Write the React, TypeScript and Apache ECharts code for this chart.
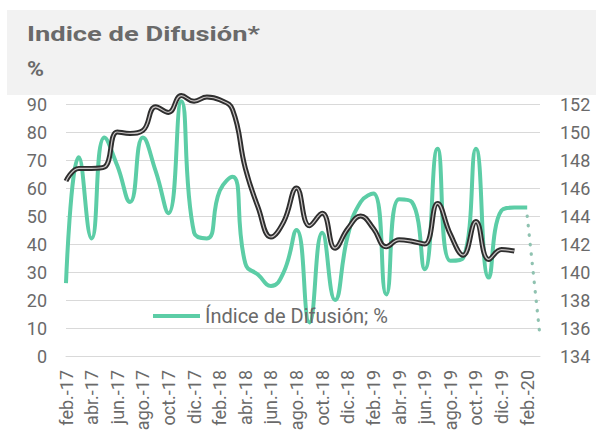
import React, { useEffect, useRef } from "react";
import * as echarts from "echarts";

const months = [
  "feb.-17", "mar.-17", "abr.-17", "may.-17", "jun.-17", "jul.-17", "ago.-17", "sep.-17", "oct.-17", "nov.-17", "dic.-17", "ene.-18",
  "feb.-18", "mar.-18", "abr.-18", "may.-18", "jun.-18", "jul.-18", "ago.-18", "sep.-18", "oct.-18", "nov.-18", "dic.-18", "ene.-19",
  "feb.-19", "mar.-19", "abr.-19", "may.-19", "jun.-19", "jul.-19", "ago.-19", "sep.-19", "oct.-19", "nov.-19", "dic.-19", "ene.-20",
  "feb.-20", "mar.-20",
];

// Índice de Difusión (%), left axis
const difusion = [
  26, 71, 42, 78, 68, 55, 78, 66, 51, 91, 44, 42,
  59, 64, 33, 29, 25, 30, 45, 12, 44, 20, 43, 55,
  58, 22, 56, 55, 31, 74, 34, 35, 74, 28, 52, 53,
  53, null,
];

// projected last month (dotted)
const difusionProj = [
  null, null, null, null, null, null, null, null, null, null, null, null,
  null, null, null, null, null, null, null, null, null, null, null, null,
  null, null, null, null, null, null, null, null, null, null, null, null,
  50, 7,
];

// dark series, right axis
const indice = [
  146.5, 147.4, 147.4, 147.5, 150.0, 149.9, 150.1, 151.8, 151.4, 152.6, 152.2, 152.5,
  152.3, 151.6, 147.4, 144.6, 142.5, 143.6, 146.0, 143.3, 144.2, 141.7, 143.1, 144.0,
  143.1, 141.8, 142.3, 142.2, 142.0, 144.9, 142.7, 141.2, 143.6, 140.9, 141.6, 141.5,
  null, null,
];

const leftTicks = { min: 0, max: 90, interval: 10 };
const rightTicks = { min: 134, max: 152, interval: 2 };

const GREEN = "#5ccda6";
const TXT = "#6a6a6a";
const FONT = "Roboto";

export default function App() {
  const ref = useRef<HTMLDivElement>(null);
  useEffect(() => {
    if (!ref.current) return;
    const chart = echarts.init(ref.current, undefined, { renderer: "svg" });
    chart.setOption({
      animation: false,
      backgroundColor: "#ffffff",
      textStyle: { fontFamily: FONT },
      graphic: [
        {
          type: "rect",
          z: -10,
          shape: { x: 7, y: 10, width: 589, height: 85 },
          style: { fill: "#f2f2f2" },
          silent: true,
        },
        {
          type: "text",
          x: 27,
          y: 23,
          scaleX: 1.3,
          style: { text: "Indice de Difusión*", fontSize: 21, fontWeight: "bold", fill: "#6a6a6a", fontFamily: FONT },
        },
        {
          type: "text",
          x: 27,
          y: 59,
          scaleX: 1.15,
          style: { text: "%", fontSize: 20, fontWeight: "bold", fill: "#6a6a6a", fontFamily: FONT },
        },
      ],
      legend: {
        data: ["Índice de Difusión; %"],
        left: 148,
        top: 301,
        icon: "rect",
        itemWidth: 47,
        itemHeight: 4,
        itemGap: 5,
        textStyle: { fontSize: 20, color: TXT, fontFamily: FONT },
      },
      grid: {
        left: 66,
        right: 56,
        top: 104,
        bottom: 77,
        containLabel: false,
        outerBoundsMode: "none",
      },
      xAxis: {
        type: "category",
        data: months,
        boundaryGap: false,
        axisLine: { show: true, lineStyle: { color: "#d9d9d9" } },
        axisTick: { show: false },
        axisLabel: { interval: 1, rotate: 90, fontSize: 18, color: TXT, margin: 14, fontFamily: FONT },
        splitLine: { show: false },
      },
      yAxis: [
        {
          type: "value",
          ...leftTicks,
          axisLine: { show: false },
          axisTick: { show: false },
          axisLabel: { fontSize: 18, color: TXT, margin: 19, fontFamily: FONT },
          splitLine: { show: true, lineStyle: { color: "#d9d9d9", width: 1 } },
        },
        {
          type: "value",
          ...rightTicks,
          position: "right",
          axisLine: { show: false },
          axisTick: { show: false },
          axisLabel: { fontSize: 18, color: TXT, margin: 20, fontFamily: FONT },
          splitLine: { show: false },
        },
      ],
      series: [
        {
          name: "Índice de Difusión; %",
          type: "line",
          data: difusion,
          yAxisIndex: 0,
          smooth: 0.5,
          showSymbol: false,
          symbol: "none",
          clip: false,
          itemStyle: { color: GREEN },
          lineStyle: { color: GREEN, width: 4 },
          z: 2,
        },
        {
          name: "proj",
          type: "line",
          data: difusionProj,
          yAxisIndex: 0,
          showSymbol: false,
          symbol: "none",
          clip: false,
          lineStyle: { color: "#8fc2b0", width: 3.2, type: [0.5, 9], cap: "round" },
          z: 2,
        },
        {
          name: "indice",
          type: "line",
          data: indice,
          yAxisIndex: 1,
          smooth: 0.45,
          showSymbol: false,
          symbol: "none",
          clip: false,
          lineStyle: { color: "#2e2e2e", width: 5 },
          z: 3,
        },
        {
          name: "indice2",
          type: "line",
          data: indice,
          yAxisIndex: 1,
          smooth: 0.45,
          showSymbol: false,
          symbol: "none",
          clip: false,
          lineStyle: { color: "#c9c4c4", width: 1.2 },
          z: 4,
        },
      ],
    });
    return () => chart.dispose();
  }, []);
  return <div ref={ref} style={{ width: 596, height: 433, position: "absolute", left: 0, top: 0 }} />;
}
